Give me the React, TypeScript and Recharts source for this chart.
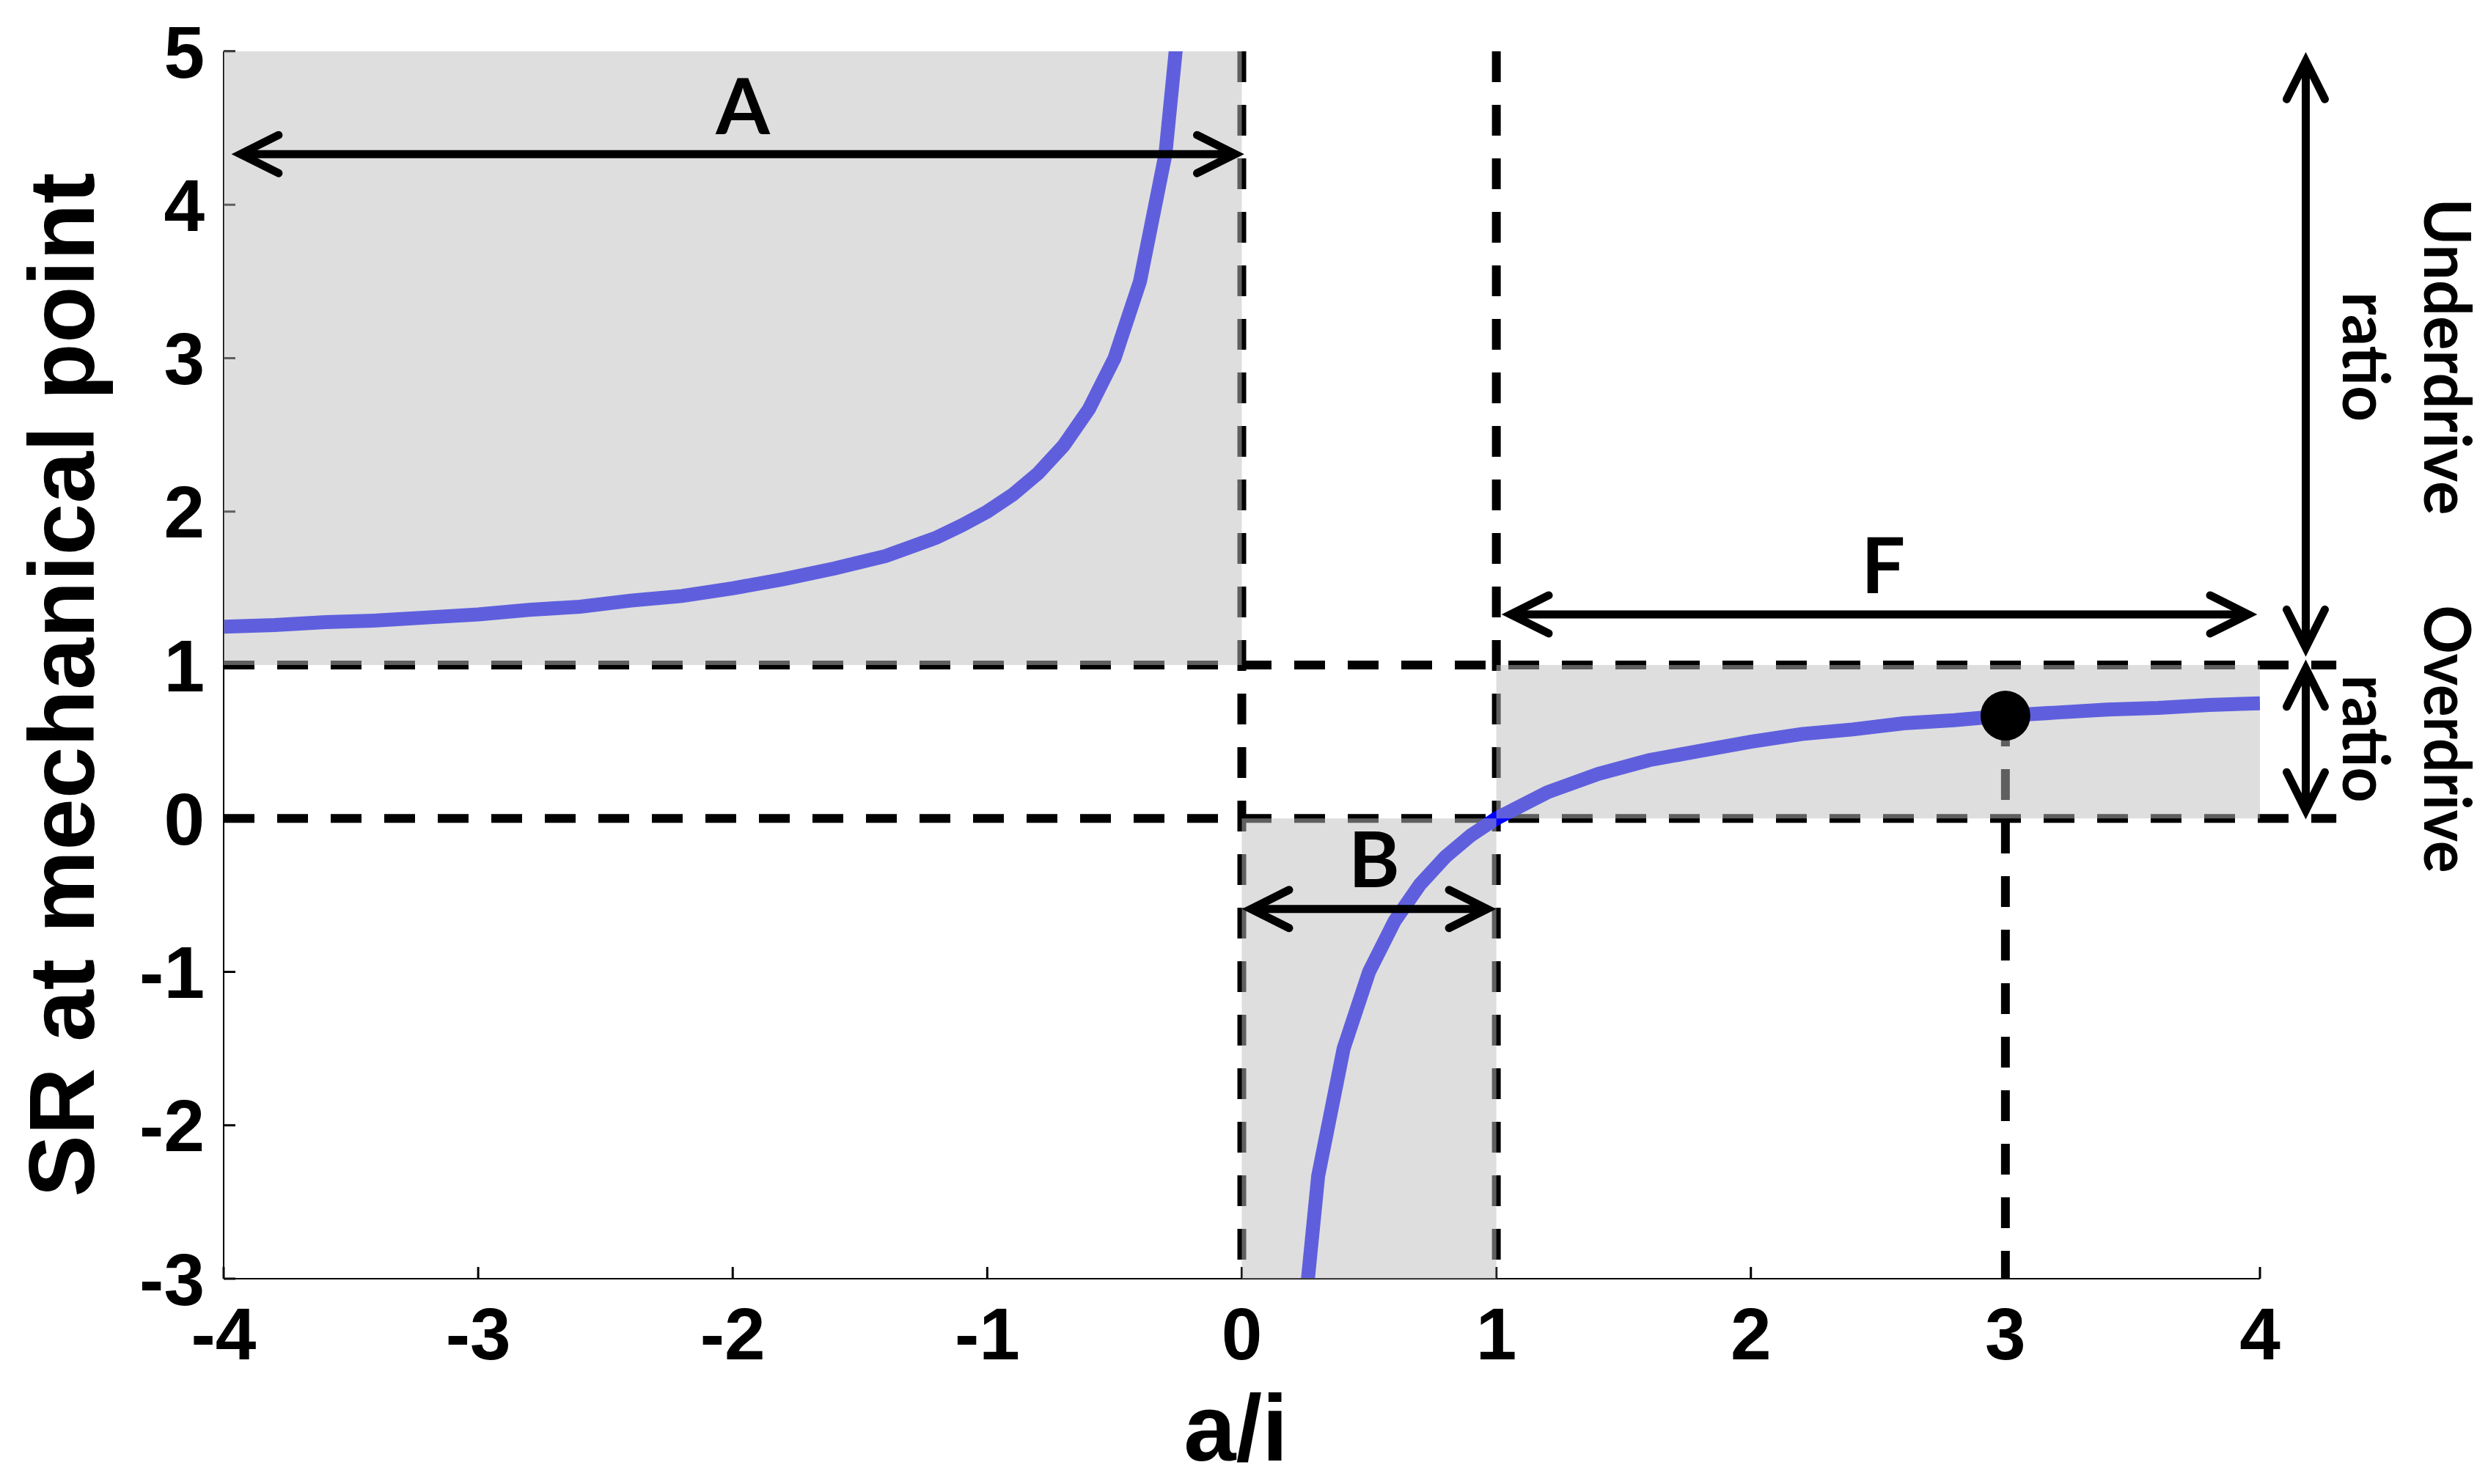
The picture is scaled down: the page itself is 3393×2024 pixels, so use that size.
import React from 'react';
import {
  LineChart,
  Line,
  XAxis,
  YAxis,
  ReferenceArea,
  ReferenceLine,
  ReferenceDot,
} from 'recharts';

// Axis ticks
const xTicks = [-4, -3, -2, -1, 0, 1, 2, 3, 4];
const yTicks = [-3, -2, -1, 0, 1, 2, 3, 4, 5];

// SR curve, branch with a/i < 0
const leftAi = [
  -4.0, -3.8, -3.6, -3.4, -3.2, -3.0, -2.8, -2.6, -2.4, -2.2, -2.0, -1.8, -1.6,
  -1.4, -1.2, -1.1, -1.0, -0.9, -0.8, -0.7, -0.6, -0.5, -0.4, -0.3, -0.2,
];
const leftSr = [
  1.25, 1.26, 1.28, 1.29, 1.31, 1.33, 1.36, 1.38, 1.42, 1.45, 1.5, 1.56, 1.63,
  1.71, 1.83, 1.91, 2.0, 2.11, 2.25, 2.43, 2.67, 3.0, 3.5, 4.33, 6.0,
];

// SR curve, branch with a/i > 0
const rightAi = [
  0.2, 0.3, 0.4, 0.5, 0.6, 0.7, 0.8, 0.9, 1.0, 1.2, 1.4, 1.6, 1.8, 2.0, 2.2,
  2.4, 2.6, 2.8, 3.0, 3.2, 3.4, 3.6, 3.8, 4.0,
];
const rightSr = [
  -4.0, -2.33, -1.5, -1.0, -0.67, -0.43, -0.25, -0.11, 0.0, 0.17, 0.29, 0.38,
  0.44, 0.5, 0.55, 0.58, 0.62, 0.64, 0.67, 0.69, 0.71, 0.72, 0.74, 0.75,
];

// Shaded zones A, B, F
const zones = [
  { x1: -4, x2: 0, y1: 1, y2: 5 },
  { x1: 0, x2: 1, y1: -3, y2: 0 },
  { x1: 1, x2: 4, y1: 0, y2: 1 },
];

// Dashed guide lines (start point first)
const guides = [
  [{ x: -4, y: 1 }, { x: 4.3, y: 1 }],
  [{ x: -4, y: 0 }, { x: 4.3, y: 0 }],
  [{ x: 0, y: 5 }, { x: 0, y: -3 }],
  [{ x: 1, y: 5 }, { x: 1, y: -3 }],
  [{ x: 3, y: 0.67 }, { x: 3, y: -3 }],
];

// Double-headed arrows
const arrows = [
  [{ x: -3.96, y: 4.33 }, { x: 0.0, y: 4.33 }],
  [{ x: 1.03, y: 1.33 }, { x: 3.98, y: 1.33 }],
  [{ x: 0.01, y: -0.59 }, { x: 0.99, y: -0.59 }],
  [{ x: 4.18, y: 4.98 }, { x: 4.18, y: 1.07 }],
  [{ x: 4.18, y: 1.02 }, { x: 4.18, y: 0.01 }],
];

// Zone letters
const zoneLabels = [
  { text: 'A', x: -1.96, y: 4.46 },
  { text: 'F', x: 2.52, y: 1.47 },
  { text: 'B', x: 0.52, y: -0.45 },
];

// Side notes (rotated)
const sideNotes = [
  { text: 'Underdrive', x: 4.645, y: 3.01, len: 432 },
  { text: 'ratio', x: 4.325, y: 3.01, len: 177 },
  { text: 'Overdrive', x: 4.645, y: 0.517, len: 365 },
  { text: 'ratio', x: 4.325, y: 0.52, len: 174 },
];

const operatingPoint = { x: 3, y: 0.67 };

const leftBranch = leftAi.map((x, i) => ({ x, sr: leftSr[i] }));
const rightBranch = rightAi.map((x, i) => ({ x, sr: rightSr[i] }));

const ARIAL = '"Liberation Sans", Arial, sans-serif';
const CALIBRI = 'Lato, "Open Sans", sans-serif';

function ArrowShape(props: any) {
  const { x1, y1, x2, y2 } = props;
  const dx = x2 - x1;
  const dy = y2 - y1;
  const len = Math.hypot(dx, dy) || 1;
  const ux = dx / len;
  const uy = dy / len;
  const inset = 9;
  const ax = x1 + ux * inset;
  const ay = y1 + uy * inset;
  const bx = x2 - ux * inset;
  const by = y2 - uy * inset;
  const back = 52;
  const side = 26;
  const head = (tx: number, ty: number, px: number, py: number) =>
    `M${tx - px * back - py * side},${ty - py * back + px * side} L${tx},${ty} L${
      tx - px * back + py * side
    },${ty - py * back - px * side}`;
  return (
    <g>
      <line x1={ax} y1={ay} x2={bx} y2={by} stroke="#000" strokeWidth={11} />
      <path
        d={head(bx, by, ux, uy)}
        fill="none"
        stroke="#000"
        strokeWidth={11}
        strokeLinecap="round"
      />
      <path
        d={head(ax, ay, -ux, -uy)}
        fill="none"
        stroke="#000"
        strokeWidth={11}
        strokeLinecap="round"
      />
    </g>
  );
}

const letterShape = (text: string) => (p: any) => (
  <text
    x={p.cx}
    y={p.cy}
    textAnchor="middle"
    fontFamily={CALIBRI}
    fontWeight={700}
    fontSize={106}
    fill="#000"
  >
    {text}
  </text>
);

const noteShape = (text: string, len: number) => (p: any) => (
  <text
    x={p.cx}
    y={p.cy}
    textAnchor="middle"
    transform={`rotate(90, ${p.cx}, ${p.cy})`}
    fontFamily={CALIBRI}
    fontWeight={700}
    fontSize={88}
    textLength={len}
    lengthAdjust="spacingAndGlyphs"
    fill="#000"
  >
    {text}
  </text>
);

const yTitle = (props: any) => {
  const vb = props.viewBox;
  const x = vb.x + 128;
  const y = vb.y + vb.height / 2 + 27;
  return (
    <text
      x={x}
      y={y}
      transform={`rotate(-90, ${x}, ${y})`}
      textAnchor="middle"
      fontFamily={ARIAL}
      fontWeight={700}
      fontSize={127}
      fill="#000"
    >
      SR at mechanical point
    </text>
  );
};

const xTitle = (props: any) => {
  const vb = props.viewBox;
  return (
    <text
      x={vb.x + vb.width / 2 - 8}
      y={vb.y + 248}
      textAnchor="middle"
      fontFamily={ARIAL}
      fontWeight={700}
      fontSize={128}
      fill="#000"
    >
      a/i
    </text>
  );
};

const tickStyle = { fill: '#000', fontSize: 100, fontWeight: 700, fontFamily: ARIAL };

export default function App() {
  return (
    <div style={{ position: 'absolute', left: 0, top: 0, background: '#fff' }}>
      <LineChart
        width={3393}
        height={2024}
        margin={{ top: 70, right: 311, bottom: 0, left: 0 }}
      >
        <XAxis
          dataKey="x"
          type="number"
          domain={[-4, 4]}
          ticks={xTicks}
          interval={0}
          allowDataOverflow
          height={280}
          tickSize={-16}
          tickMargin={55}
          axisLine={{ stroke: '#000', strokeWidth: 2 }}
          tickLine={{ stroke: '#000', strokeWidth: 3 }}
          tick={tickStyle}
          label={xTitle}
        />
        <XAxis
          xAxisId="top"
          orientation="top"
          type="number"
          domain={[-4, 4]}
          ticks={xTicks}
          interval={0}
          height={0}
          tickSize={-16}
          tick={false}
          axisLine={{ stroke: '#000', strokeWidth: 2 }}
          tickLine={{ stroke: '#000', strokeWidth: 3 }}
        />
        <YAxis
          type="number"
          domain={[-3, 5]}
          ticks={yTicks}
          interval={0}
          allowDataOverflow
          width={305}
          tickSize={-16}
          tickMargin={42}
          axisLine={{ stroke: '#000', strokeWidth: 2 }}
          tickLine={{ stroke: '#000', strokeWidth: 3 }}
          tick={tickStyle}
          label={yTitle}
        />
        <YAxis
          yAxisId="right"
          orientation="right"
          type="number"
          domain={[-3, 5]}
          ticks={yTicks}
          interval={0}
          width={0}
          tickSize={-16}
          tick={false}
          axisLine={{ stroke: '#000', strokeWidth: 2 }}
          tickLine={{ stroke: '#000', strokeWidth: 3 }}
        />

        {guides.map((seg, i) => (
          <ReferenceLine
            key={`g${i}`}
            segment={seg}
            ifOverflow="visible"
            stroke="#000"
            strokeWidth={12}
            strokeDasharray="42 31"
            zIndex={300}
          />
        ))}

        <Line
          data={leftBranch}
          dataKey="sr"
          type="linear"
          stroke="#0000ff"
          strokeWidth={19}
          dot={false}
          activeDot={false}
          isAnimationActive={false}
          zIndex={350}
        />
        <Line
          data={rightBranch}
          dataKey="sr"
          type="linear"
          stroke="#0000ff"
          strokeWidth={19}
          dot={false}
          activeDot={false}
          isAnimationActive={false}
          zIndex={350}
        />

        {zones.map((z, i) => (
          <ReferenceArea
            key={`z${i}`}
            x1={z.x1}
            x2={z.x2}
            y1={z.y1}
            y2={z.y2}
            fill="#bebebe"
            fillOpacity={0.5}
            stroke="none"
            ifOverflow="visible"
            zIndex={550}
          />
        ))}

        <ReferenceDot
          x={operatingPoint.x}
          y={operatingPoint.y}
          r={34}
          fill="#000"
          stroke="none"
          zIndex={700}
        />

        {arrows.map((seg, i) => (
          <ReferenceLine
            key={`a${i}`}
            segment={seg}
            ifOverflow="visible"
            shape={ArrowShape}
            zIndex={700}
          />
        ))}

        {zoneLabels.map((l) => (
          <ReferenceDot
            key={l.text}
            x={l.x}
            y={l.y}
            r={1}
            ifOverflow="visible"
            shape={letterShape(l.text)}
            zIndex={700}
          />
        ))}

        {sideNotes.map((n, i) => (
          <ReferenceDot
            key={`n${i}`}
            x={n.x}
            y={n.y}
            r={1}
            ifOverflow="visible"
            shape={noteShape(n.text, n.len)}
            zIndex={700}
          />
        ))}
      </LineChart>
    </div>
  );
}
